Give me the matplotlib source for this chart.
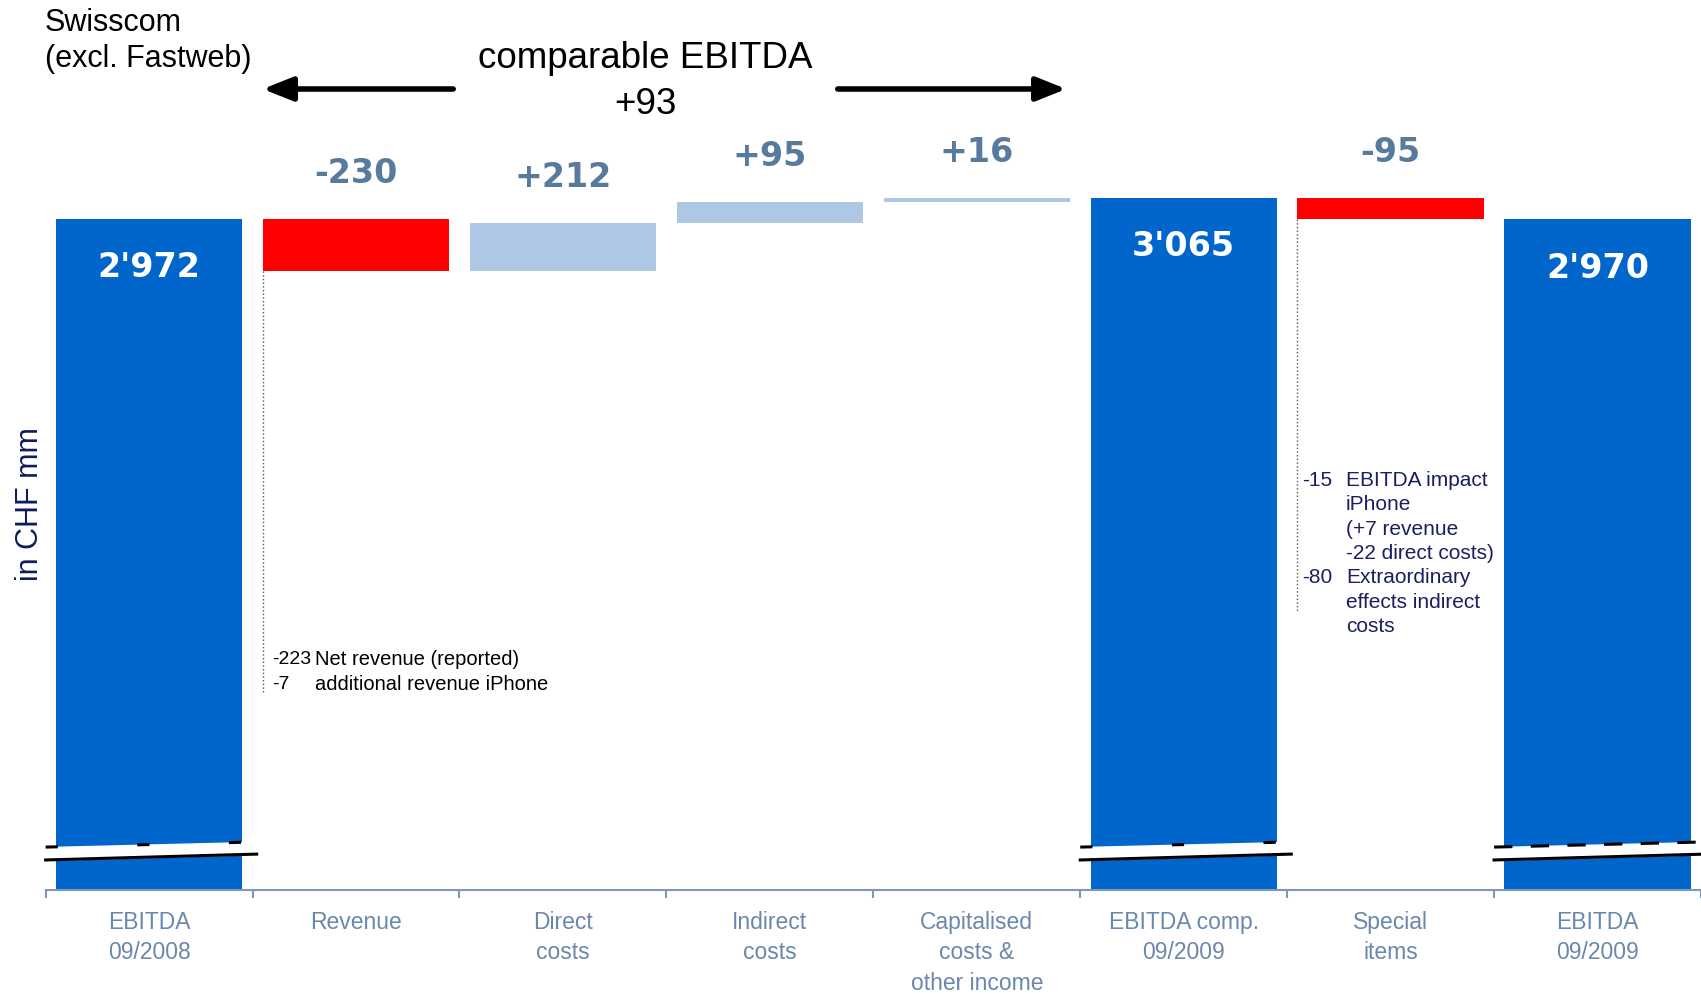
import numpy as np
import matplotlib
matplotlib.use("Agg")
import matplotlib.pyplot as plt
from matplotlib.patches import FancyArrowPatch

# data (CHF mm)
categories = ["EBITDA\n09/2008", "Revenue", "Direct\ncosts", "Indirect\ncosts",
              "Capitalised\ncosts &\nother income", "EBITDA comp.\n09/2009",
              "Special\nitems", "EBITDA\n09/2009"]
values = [2972, -230, 212, 95, 16, 3065, -95, 2970]
is_total = [True, False, False, False, False, True, False, True]

rev_notes = [("-223", "Net revenue (reported)"), ("-7", "additional revenue iPhone")]
special_notes = [("-15", "EBITDA impact"), ("", "iPhone"), ("", "(+7 revenue"),
                 ("", "-22 direct costs)"), ("-80", "Extraordinary"),
                 ("", "effects indirect"), ("", "costs")]

BLUE = "#0066cc"
RED = "#ff0000"
LIGHT = "#aec7e4"
LABEL = "#587a9c"
AXIS = "#7f97b8"
TICK = "#6b87ab"
NAVY = "#1a1f5e"

# waterfall geometry
bottoms, heights, colors = [], [], []
level = 0
for v, tot in zip(values, is_total):
    if tot:
        bottoms.append(0)
        heights.append(v)
        colors.append(BLUE)
        level = v
    else:
        bottoms.append(level + min(v, 0))
        heights.append(abs(v))
        colors.append(RED if v < 0 else LIGHT)
        level += v

fig = plt.figure(figsize=(17.01, 9.94), dpi=100)
ax = fig.add_axes([45.6 / 1701, 1 - 890 / 994, 1 - 45.6 / 1701, 890 / 994])
x = np.arange(len(values))
w = 0.9
ax.bar(x, heights, bottom=bottoms, width=w, color=colors, zorder=2)
ax.set_xlim(-0.5, len(values) - 0.5)
ax.set_ylim(0, 3942)

for s in ["top", "right", "left"]:
    ax.spines[s].set_visible(False)
ax.spines["bottom"].set_color(AXIS)
ax.spines["bottom"].set_linewidth(1.5)
ax.set_yticks([])
ax.set_xticks(x)
ax.set_xticklabels(categories, family=["Liberation Sans", "DejaVu Sans"],
                   fontsize=16.5, color=TICK, linespacing=1.42)
ax.set_xticks(np.arange(len(values) + 1) - 0.5, minor=True)
ax.tick_params(axis="x", which="major", length=0, pad=15)
ax.tick_params(axis="x", which="minor", length=6, width=1.5, color=AXIS)

# value labels
for i, (v, tot) in enumerate(zip(values, is_total)):
    top = bottoms[i] + heights[i]
    if tot:
        ax.annotate(f"{v // 1000}'{v % 1000:03d}", (i, top), xytext=(0, -35),
                    textcoords="offset points", ha="center", va="center",
                    color="white", fontsize=24, fontweight="bold", family="DejaVu Sans")
    else:
        ax.annotate(f"{v:+d}", (i, top), xytext=(0, 32.5), textcoords="offset points",
                    ha="center", va="center", color=LABEL, fontsize=24,
                    fontweight="bold", family="DejaVu Sans")

# axis break marks on the total bars
for i, tot in enumerate(is_total):
    if not tot:
        continue
    bx = np.array([i - 0.5, i + 0.52])
    lo = np.array([133, 159])
    hi = np.array([190, 213])
    ax.fill_between(bx, lo, hi, color="white", zorder=3, clip_on=False)
    ax.plot(bx, lo, color="black", lw=2.2, zorder=4, clip_on=False)
    ax.plot(bx, hi, color="black", lw=2.2, zorder=4, clip_on=False,
            dashes=(4, 26) if i != len(values) - 1 else (6, 6))

# annotations with dotted leaders
ann_font = ["Liberation Sans", "DejaVu Sans"]
ax.plot([1 - w / 2, 1 - w / 2], [bottoms[1], 877], ls=":", color="#555555", lw=1, zorder=1)
for k, (num, txt) in enumerate(rev_notes):
    yy = 1019 - k * 107
    ax.text(1 - w / 2 + 0.045, yy, num, ha="left", va="center", fontsize=14,
            family=ann_font, color="black")
    ax.text(1 - w / 2 + 0.25, yy, txt, ha="left", va="center", fontsize=14.5,
            family=ann_font, color="black")

ax.plot([6 - w / 2, 6 - w / 2], [bottoms[6], 1236], ls=":", color="#555555", lw=1, zorder=1)
for k, (num, txt) in enumerate(special_notes):
    yy = 1813 - k * 107.5
    ax.text(6 - w / 2 + 0.022, yy, num, ha="left", va="center", fontsize=15,
            family=ann_font, color=NAVY)
    ax.text(6 - w / 2 + 0.235, yy, txt, ha="left", va="center", fontsize=15,
            family=ann_font, color=NAVY)

# headings
fig.text(45 / 1701, 1 - 23 / 994, "Swisscom", ha="left", va="center",
         fontsize=22, family=ann_font)
fig.text(45 / 1701, 1 - 59 / 994, "(excl. Fastweb)", ha="left", va="center",
         fontsize=22, family=ann_font)
fig.text(645 / 1701, 1 - 59 / 994, "comparable EBITDA", ha="center", va="center",
         fontsize=26.5, family=ann_font)
fig.text(645 / 1701, 1 - 104 / 994, "+93", ha="center", va="center",
         fontsize=26.5, family=ann_font)
fig.text(30 / 1701, 1 - 504 / 994, "in CHF mm", ha="center", va="center", rotation=90,
         fontsize=22, family=ann_font, color="#0d1a5c")

for x0, x1 in [(456, 260), (835, 1069)]:
    arr = FancyArrowPatch((x0 / 1701, 1 - 89 / 994), (x1 / 1701, 1 - 89 / 994),
                          transform=fig.transFigure, arrowstyle="-|>,head_length=1.0,head_width=0.4",
                          mutation_scale=18, lw=4, color="black")
    fig.patches.append(arr)

fig.savefig("out.png", dpi=100)
